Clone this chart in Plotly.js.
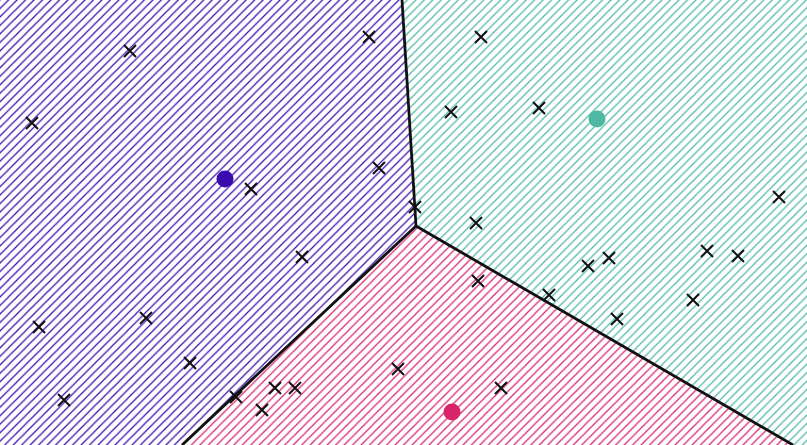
<!DOCTYPE html>
<html>
<head>
<meta charset="utf-8">
<script src="https://cdn.plot.ly/plotly-3.0.1.min.js"></script>
<style>
  html, body { margin: 0; padding: 0; background: #fff; }
  #chart { width: 807px; height: 445px; }
</style>
</head>
<body>
<div id="chart"></div>
<script>
// cluster cells (corners)
const purpleX = [0, 402, 416, 182, 0];
const purpleY = [0, 0, 226, 445, 445];
const tealX = [402, 807, 807, 793, 416];
const tealY = [0, 0, 445, 445, 226];
const pinkX = [416, 793, 182];
const pinkY = [226, 445, 445];

// borders between cells
const edgeX = [402, 416, null, 416, 182, null, 416, 793];
const edgeY = [0, 226, null, 226, 445, null, 226, 445];

// samples
const ptX = [130, 369, 32, 251, 379, 415, 39, 146, 64, 190, 302, 236, 275, 295, 262,
  398, 481, 451, 539, 779, 476, 478, 588, 609, 707, 738, 549, 693, 617, 501];
const ptY = [51, 37, 123, 189, 168, 207, 327, 318, 400, 363, 257, 397, 388, 388, 410,
  369, 37, 112, 108, 197, 223, 281, 266, 258, 251, 256, 295, 300, 319, 388];

// centroids
const cenX = [225, 597, 452];
const cenY = [179, 119, 412];
const colors = ['#3a0cb0', '#4fb8a2', '#d8246a'];

function cell(x, y, c) {
  return {
    x: x, y: y, type: 'scatter', mode: 'lines', fill: 'toself',
    line: { width: 0 }, fillcolor: 'rgba(0,0,0,0)',
    fillpattern: { shape: '/', fgcolor: c, bgcolor: '#ffffff', size: 6, solidity: 0.2 },
    hoverinfo: 'skip'
  };
}

const data = [
  cell(purpleX, purpleY, colors[0]),
  cell(tealX, tealY, colors[1]),
  cell(pinkX, pinkY, colors[2]),
  {
    x: edgeX, y: edgeY, type: 'scatter', mode: 'lines',
    line: { color: '#111', width: 2.8 }, hoverinfo: 'skip'
  },
  {
    x: ptX, y: ptY, type: 'scatter', mode: 'markers',
    marker: { symbol: 'x-thin-open', size: 12, color: '#111', line: { color: '#111', width: 2 } }
  },
  {
    x: cenX, y: cenY, type: 'scatter', mode: 'markers',
    marker: { symbol: 'circle', size: 17, color: colors, line: { width: 0 } }
  }
];

const layout = {
  width: 807, height: 445,
  margin: { l: 0, r: 0, t: 0, b: 0 },
  showlegend: false,
  paper_bgcolor: '#fff', plot_bgcolor: '#fff',
  xaxis: { range: [0, 807], visible: false, fixedrange: true },
  yaxis: { range: [445, 0], visible: false, fixedrange: true }
};

Plotly.newPlot('chart', data, layout, { staticPlot: true });
</script>
</body>
</html>
